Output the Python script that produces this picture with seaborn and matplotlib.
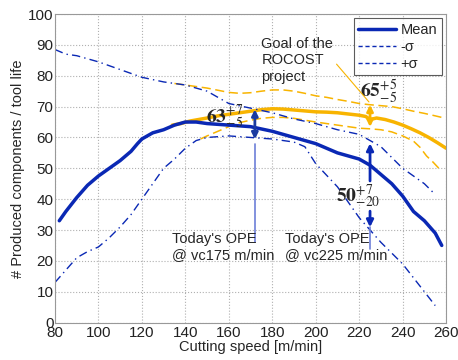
import matplotlib
matplotlib.use("Agg")
import matplotlib.pyplot as plt
import seaborn as sns
import pandas as pd
from matplotlib.lines import Line2D

# ---- data ----
mean_x = [82, 85, 90, 95, 100, 105, 110, 115, 118, 120, 125, 130, 135, 140, 145, 150, 160, 170, 180, 190, 200, 210, 220, 225, 230, 235, 240, 245, 250, 255, 258]
mean_y = [33, 36, 40.5, 44.5, 47.5, 50, 52.5, 55.5, 58, 59.5, 61.5, 62.5, 64, 65, 65, 64.5, 64, 63.5, 62, 60, 58, 55, 53, 51, 48, 45, 41, 36, 33, 29, 25]

upper_x = [80, 85, 90, 100, 110, 120, 130, 140, 150, 160, 170, 180, 190, 200, 210, 220, 230, 240, 250, 255]
upper_y = [88.5, 87, 86.5, 84.5, 82, 79.5, 78, 77, 75, 71, 69.5, 68, 66, 64.5, 62.5, 61, 57, 50, 45, 41.5]

lower_x = [80, 85, 90, 95, 100, 105, 110, 115, 120, 125, 130, 135, 140, 145, 150, 160, 170, 180, 190, 195, 200, 210, 220, 230, 240, 250, 255]
lower_y = [13, 17, 21, 23, 24.5, 27.5, 31, 35, 40, 45, 50, 53, 56.5, 59, 60, 60.5, 60, 59.5, 58.5, 57, 51.5, 44, 34, 26, 19, 10, 5.5]

goal_x = [134, 138, 142, 146, 150, 155, 160, 165, 170, 175, 180, 185, 190, 195, 200, 205, 210, 215, 220, 223, 225, 228, 232, 236, 240, 244, 248, 252, 256, 260]
goal_y = [64, 64.5, 65.3, 65.8, 66.3, 67, 67.5, 68, 68.5, 69, 69.3, 69.2, 68.9, 68.6, 68.3, 68.2, 68, 67.6, 67.2, 66.8, 65.8, 66.3, 65.8, 65, 64, 62.8, 61.5, 60, 58.3, 56.5]

goal_up_x = [135, 140, 145, 150, 155, 160, 165, 170, 175, 180, 185, 190, 195, 200, 205, 210, 215, 220, 225, 230, 235, 240, 245, 250, 255, 258]
goal_up_y = [77.5, 77, 76.5, 76, 75.3, 74.6, 74.3, 74.5, 75, 75.4, 75.4, 75, 74.3, 73.5, 73, 72.3, 71.7, 71, 70.6, 70.3, 70, 69.3, 68.5, 67.8, 67, 66.5]

goal_lo_x = [147, 150, 155, 160, 165, 170, 175, 180, 185, 190, 195, 200, 205, 210, 215, 220, 225, 230, 235, 240, 245, 248, 251, 254, 258]
goal_lo_y = [59.5, 60.5, 62, 63.5, 64.8, 65.6, 66.2, 66.5, 66.5, 66.2, 65.6, 65, 64.5, 64, 63.5, 63, 62.8, 62.5, 61.8, 60.5, 58.8, 56.8, 54, 52, 49]

legend_labels = ["Mean", "-\u03c3", "+\u03c3"]

# ---- style ----
sns.set_style("whitegrid", {"grid.linestyle": ":", "grid.color": "#b0b0b0",
                            "axes.edgecolor": "#999999"})
plt.rcParams["font.family"] = ["Liberation Sans", "DejaVu Sans"]
plt.rcParams["mathtext.fontset"] = "stix"

BLUE = "#0a28b4"
YEL = "#f8b400"
LBLUE = "#6d7fd8"

fig = plt.figure(figsize=(4.58, 3.6), dpi=100)
ax = fig.add_axes([0.120, 0.104, 0.854, 0.857])

sns.lineplot(x=goal_up_x, y=goal_up_y, ax=ax, color=YEL, lw=1.1, linestyle=(0, (6, 3)))
sns.lineplot(x=goal_lo_x, y=goal_lo_y, ax=ax, color=YEL, lw=1.1, linestyle=(0, (6, 3)))
sns.lineplot(x=goal_x, y=goal_y, ax=ax, color=YEL, lw=2.5)
sns.lineplot(x=upper_x, y=upper_y, ax=ax, color=BLUE, lw=1.0, linestyle=(0, (6, 3, 1, 3)))
sns.lineplot(x=lower_x, y=lower_y, ax=ax, color=BLUE, lw=1.0, linestyle=(0, (6, 3, 1, 3)))
sns.lineplot(x=mean_x, y=mean_y, ax=ax, color=BLUE, lw=2.5)

ax.set_xlim(80, 260)
ax.set_ylim(0, 100)
ax.set_xticks(range(80, 261, 20))
ax.set_yticks(range(0, 101, 10))
ax.tick_params(labelsize=11, colors="#222222", length=0)
ax.tick_params(axis="y", pad=1)
ax.tick_params(axis="x", pad=2.5)
ax.set_xlabel("Cutting speed [m/min]", fontsize=10.5, labelpad=0)
ax.set_ylabel("# Produced components / tool life", fontsize=10.5, labelpad=2)

# annotations at vc175
ax.plot([172, 172], [58, 26], color=LBLUE, lw=1.2)
ax.annotate("", xy=(172, 70), xytext=(172, 58.5),
            arrowprops=dict(arrowstyle="<|-|>", color="#1a3aa0", lw=2, mutation_scale=9))
ax.text(158, 66.5, r"$\mathbf{63}^{+7}_{-5}$", fontsize=14, ha="center", va="center")
ax.text(134, 24.5, "Today's OPE\n@ vc175 m/min", fontsize=10.5, ha="left", va="center",
        linespacing=1.2)

# annotations at vc225
ax.plot([225, 225], [31, 24], color=LBLUE, lw=1.2)
ax.annotate("", xy=(225, 59), xytext=(225, 45),
            arrowprops=dict(arrowstyle="-|>", color=BLUE, lw=2, mutation_scale=10))
ax.annotate("", xy=(225, 30), xytext=(225, 37),
            arrowprops=dict(arrowstyle="-|>", color=BLUE, lw=2, mutation_scale=10))
ax.text(219.5, 41, r"$\mathbf{50}^{+7}_{-20}$", fontsize=14, ha="center", va="center")
ax.text(186, 24.5, "Today's OPE\n@ vc225 m/min", fontsize=10.5, ha="left", va="center",
        linespacing=1.2)

# goal annotation
ax.annotate("", xy=(225, 71.5), xytext=(225, 62.5),
            arrowprops=dict(arrowstyle="<|-|>", color=YEL, lw=2, mutation_scale=9))
ax.text(229, 75, r"$\mathbf{65}^{+5}_{-5}$", fontsize=14, ha="center", va="center")
ax.annotate("Goal of the\nROCOST\nproject", xy=(224.5, 71.5), xytext=(175, 85),
            fontsize=10.5, ha="left", va="center", linespacing=1.2,
            arrowprops=dict(arrowstyle="-", color=YEL, lw=0.8, shrinkA=0, shrinkB=0,
                            relpos=(1.0, 0.5)))

handles = [Line2D([], [], color=BLUE, lw=2.5),
           Line2D([], [], color=BLUE, lw=1.0, linestyle=(0, (3, 2))),
           Line2D([], [], color=BLUE, lw=1.0, linestyle=(0, (3, 2)))]
leg = ax.legend(handles, legend_labels, loc="upper right", fontsize=10.5, frameon=True,
                fancybox=False, edgecolor="#333333", handlelength=2.6, borderpad=0.3,
                labelspacing=0.2, handletextpad=0.3, borderaxespad=0.3)
leg.get_frame().set_linewidth(0.8)

fig.savefig("out.png", dpi=100)
